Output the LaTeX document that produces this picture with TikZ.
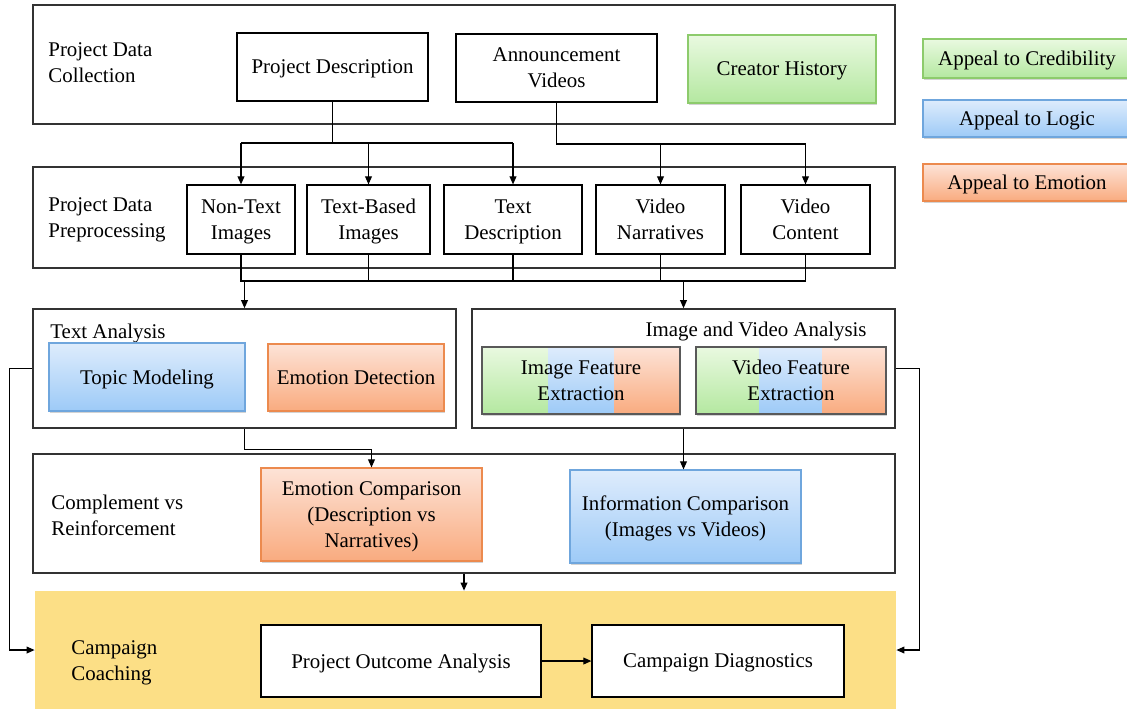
\documentclass[tikz,border=0pt]{standalone}
\usepackage{fontspec}
\setmainfont{Liberation Serif}
\usetikzlibrary{arrows.meta,calc,shadows,positioning}

\definecolor{grnT}{HTML}{E9F9E0}
\definecolor{grnB}{HTML}{B4E8A0}
\definecolor{grnD}{HTML}{8DCB6C}
\definecolor{bluT}{HTML}{DEECFC}
\definecolor{bluB}{HTML}{9DCAF7}
\definecolor{bluD}{HTML}{6FA6DD}
\definecolor{orgT}{HTML}{FDE3D7}
\definecolor{orgB}{HTML}{F9AB7F}
\definecolor{orgD}{HTML}{EC8A4E}
\definecolor{coachY}{HTML}{FCDF86}

\tikzset{
  frame/.style={draw=black!80,line width=0.8pt,minimum width=431pt},
  plainbox/.style={draw=black,line width=0.6pt,fill=white,align=center,inner sep=2pt,text depth=0pt},
  shadowed/.style={drop shadow={shadow xshift=0.6pt,shadow yshift=-0.9pt,opacity=0.35}},
  greenbox/.style={shadowed,draw=grnD,line width=0.6pt,top color=grnT,bottom color=grnB,align=center,text depth=0pt},
  bluebox/.style={shadowed,draw=bluD,line width=0.6pt,top color=bluT,bottom color=bluB,align=center,text depth=0pt},
  orangebox/.style={shadowed,draw=orgD,line width=0.6pt,top color=orgT,bottom color=orgB,align=center,text depth=0pt},
  tribox/.style={shadowed,draw=black!65,line width=0.6pt,align=center,text depth=0pt,
    path picture={
      \shade[top color=grnT,bottom color=grnB] (path picture bounding box.north west)
        rectangle ($(path picture bounding box.south west)!1/3!(path picture bounding box.south east)$);
      \shade[top color=bluT,bottom color=bluB] ($(path picture bounding box.north west)!1/3!(path picture bounding box.north east)$)
        rectangle ($(path picture bounding box.south west)!2/3!(path picture bounding box.south east)$);
      \shade[top color=orgT,bottom color=orgB] ($(path picture bounding box.north west)!2/3!(path picture bounding box.north east)$)
        rectangle (path picture bounding box.south east);
    }},
  stage/.style={align=left,anchor=west,inner sep=0pt,text depth=0pt},
  arr/.style={-{Triangle[length=4pt,width=3.4pt]},line width=0.55pt},
  bus/.style={line width=0.55pt}
}

\begin{document}
\begin{tikzpicture}[x=0.5pt,y=-0.5pt,font=\fontsize{10.45}{13}\selectfont]
  \useasboundingbox (0,0) rectangle (1127,708);

  % stages
  \node[frame,minimum height=59.5pt] (collect) at (464,64.5) {};
  \node[frame,minimum height=50.5pt] (prep) at (464,217.5) {};
  \node[frame,minimum width=211.5pt,minimum height=59.5pt] (textan) at (244.5,368.5) {};
  \node[frame,minimum width=211.5pt,minimum height=59.5pt] (imgan) at (683.5,368.5) {};
  \node[frame,minimum height=59.5pt] (comp) at (464,513.5) {};
  \node[fill=coachY,minimum width=430.5pt,minimum height=59pt] (coach) at (465.5,650) {};

  \node[stage] at (48,63) {Project Data\\Collection};
  \node[stage] at (48,218) {Project Data\\Preprocessing};
  \node[stage] at (50,331) {Text Analysis};
  \node[stage,anchor=east] at (867,329) {Image and Video Analysis};
  \node[stage] at (51,515) {Complement vs\\Reinforcement};
  \node[stage] at (71,661) {Campaign\\Coaching};

  % collection
  \node[plainbox,minimum width=95.5pt,minimum height=34pt] (desc) at (332.5,67) {Project Description};
  \node[plainbox,minimum width=100.5pt,minimum height=34pt] (annc) at (556.5,68) {Announcement\\Videos};
  \node[greenbox,minimum width=94pt,minimum height=34pt] (creator) at (782,69) {Creator History};

  % legend
  \node[greenbox,minimum width=104pt,minimum height=19.5pt] (cred) at (1027,58.5) {Appeal to Credibility};
  \node[bluebox,minimum width=104pt,minimum height=18.5pt] (logic) at (1027,118.5) {Appeal to Logic};
  \node[orangebox,minimum width=104pt,minimum height=18.5pt] (emo) at (1027,182.5) {Appeal to Emotion};

  % preprocessing
  \node[plainbox,minimum width=54pt,minimum height=34.5pt] (nontext) at (241,219.5) {Non-Text\\Images};
  \node[plainbox,minimum width=61.5pt,minimum height=34.5pt] (textimg) at (368.5,219.5) {Text-Based\\Images};
  \node[plainbox,minimum width=69pt,minimum height=34.5pt] (textdesc) at (513,219.5) {Text\\Description};
  \node[plainbox,minimum width=64.5pt,minimum height=34.5pt] (narr) at (660.5,219.5) {Video\\Narratives};
  \node[plainbox,minimum width=64.5pt,minimum height=34.5pt] (vidcont) at (805.5,219.5) {Video\\Content};

  % analysis
  \node[bluebox,minimum width=98pt,minimum height=34pt] (topic) at (147,377) {Topic Modeling};
  \node[orangebox,minimum width=88pt,minimum height=33.5pt] (emodet) at (356,377.5) {Emotion Detection};
  \node[tribox,minimum width=99pt,minimum height=33.5pt] (imgfeat) at (581,380.5) {Image Feature\\Extraction};
  \node[tribox,minimum width=95pt,minimum height=33.5pt] (vidfeat) at (791,380.5) {Video Feature\\Extraction};

  % comparison
  \node[orangebox,minimum width=110.5pt,minimum height=46.5pt] (emocomp) at (371.5,514.5) {Emotion Comparison\\(Description vs\\Narratives)};
  \node[bluebox,minimum width=115.5pt,minimum height=46.5pt] (infocomp) at (685.5,516.5) {Information Comparison\\(Images vs Videos)};

  % coaching
  \node[plainbox,minimum width=140pt,minimum height=36pt] (outcome) at (401,661) {Project Outcome Analysis};
  \node[plainbox,minimum width=126pt,minimum height=36pt] (diag) at (718,661) {Campaign Diagnostics};

  % connectors
  \coordinate (split1) at (332.5,143);
  \coordinate (split2) at (556.5,144);
  \draw[bus] (desc.south) -- (split1);
  \draw[bus] (nontext.north |- split1) -- (textdesc.north |- split1);
  \draw[arr] (nontext.north |- split1) -- (nontext.north);
  \draw[arr] (textimg.north |- split1) -- (textimg.north);
  \draw[arr] (textdesc.north |- split1) -- (textdesc.north);
  \draw[bus] (annc.south) |- (vidcont.north |- split2);
  \draw[arr] (narr.north |- split2) -- (narr.north);
  \draw[arr] (vidcont.north |- split2) -- (vidcont.north);

  \coordinate (merge) at (241,281);
  \draw[bus] (nontext.south) |- (vidcont.south |- merge) -- (vidcont.south);
  \draw[bus] (textimg.south) -- (textimg.south |- merge);
  \draw[bus] (textdesc.south) -- (textdesc.south |- merge);
  \draw[bus] (narr.south) -- (narr.south |- merge);
  \draw[arr] (textan.north |- merge) -- (textan.north);
  \draw[arr] (imgan.north |- merge) -- (imgan.north);

  \draw[arr] (textan.south) -- ++(0,21) -| (emocomp.north);
  \draw[arr] (imgan.south) -- (imgan.south |- infocomp.north);
  \draw[arr] (comp.south) -- (comp.south |- coach.north);
  \draw[arr] (textan.west) -- ++(-23,0) |- (coach.west);
  \draw[arr] (imgan.east) -- ++(24,0) |- (coach.east);
  \draw[arr] (outcome) -- (diag);
\end{tikzpicture}
\end{document}
